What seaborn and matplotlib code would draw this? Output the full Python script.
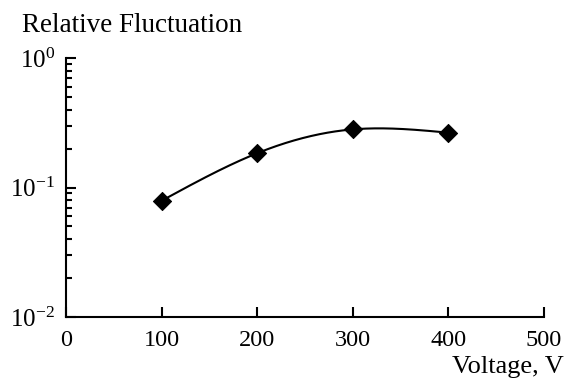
import numpy as np
import pandas as pd
import matplotlib
matplotlib.use("Agg")
import matplotlib.pyplot as plt
import seaborn as sns
from matplotlib.ticker import LogLocator, FixedLocator, NullFormatter

voltage = [100, 200, 300, 400]
fluctuation = [0.079, 0.184, 0.281, 0.265]
x_ticks = [0, 100, 200, 300, 400, 500]
y_ticks = [1e-2, 1e-1, 1]
y_tick_labels = [r"$10^{-2}$", r"$10^{-1}$", r"$10^{0}$"]
y_label = "Relative Fluctuation"
x_label = "Voltage, V"

sns.set_style("ticks")
plt.rcParams['font.family'] = ['Liberation Serif', 'DejaVu Serif']
plt.rcParams['mathtext.fontset'] = 'custom'
plt.rcParams['mathtext.rm'] = 'Liberation Serif'
plt.rcParams['mathtext.it'] = 'Liberation Serif:italic'

fig = plt.figure(figsize=(5.68, 3.78), dpi=100)
ax = fig.add_axes([66/568, 1-317/378, (544-66)/568, (317-58)/378])

# smooth curve: natural cubic spline through the points in log space
xs = np.array(voltage, float)
ys = np.log10(np.array(fluctuation))
n = len(xs)
h = np.diff(xs)
A = np.zeros((n, n)); b = np.zeros(n)
A[0, 0] = 1; A[-1, -1] = 1
for i in range(1, n-1):
    A[i, i-1] = h[i-1]; A[i, i] = 2*(h[i-1]+h[i]); A[i, i+1] = h[i]
    b[i] = 6*((ys[i+1]-ys[i])/h[i] - (ys[i]-ys[i-1])/h[i-1])
M = np.linalg.solve(A, b)
xf = np.linspace(xs[0], xs[-1], 300)
yf = np.empty_like(xf)
for k, x in enumerate(xf):
    i = min(np.searchsorted(xs, x, side='right')-1, n-2)
    t1 = xs[i+1]-x; t0 = x-xs[i]
    yf[k] = (M[i]*t1**3 + M[i+1]*t0**3)/(6*h[i]) + (ys[i]/h[i] - M[i]*h[i]/6)*t1 + (ys[i+1]/h[i] - M[i+1]*h[i]/6)*t0
curve = pd.DataFrame({"x": xf, "y": 10**yf})
pts = pd.DataFrame({"x": voltage, "y": fluctuation})

sns.lineplot(data=curve, x="x", y="y", ax=ax, color="black", linewidth=1.5, sort=False)
sns.scatterplot(data=pts, x="x", y="y", ax=ax, marker="D", s=85, color="black", edgecolor="black", zorder=3)

ax.set_yscale("log")
ax.set_xlim(0, 500)
ax.set_ylim(1e-2, 1)
ax.xaxis.set_major_locator(FixedLocator(x_ticks))
ax.set_xticklabels([str(v) for v in x_ticks])
ax.yaxis.set_minor_locator(LogLocator(base=10, subs=np.arange(2, 10), numticks=20))
ax.yaxis.set_minor_formatter(NullFormatter())
ax.set_yticks(y_ticks)
ax.set_yticklabels(y_tick_labels)

for s in ["top", "right"]:
    ax.spines[s].set_visible(False)
for s in ["left", "bottom"]:
    ax.spines[s].set_linewidth(1.5)
    ax.spines[s].set_color("black")
ax.tick_params(axis="x", which="major", direction="in", length=7, width=1.5,
               labelsize=17.5, colors="black", pad=9)
ax.tick_params(axis="y", which="major", direction="in", length=7, width=1.5,
               labelsize=18, colors="black", pad=8)
ax.tick_params(axis="y", which="minor", direction="in", length=4.5, width=1.5, colors="black")
ax.tick_params(axis="x", which="minor", length=0)
ax.set_xlabel("")
ax.set_ylabel("")

fig.text(22/568, 1-32/378, y_label, fontsize=19.5, ha="left", va="baseline", color="black")
fig.text(564/568, 1-373/378, x_label, fontsize=19, ha="right", va="baseline", color="black")

fig.savefig("out.png", dpi=100)
